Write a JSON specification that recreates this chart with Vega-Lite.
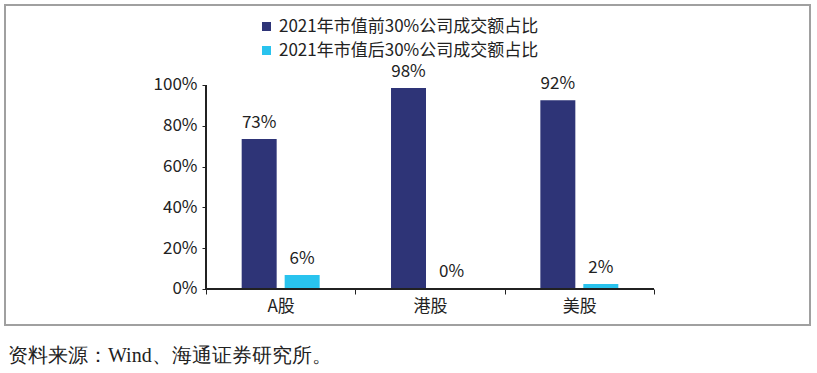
{
  "$schema": "https://vega.github.io/schema/vega-lite/v6.json",
  "width": 805,
  "height": 320,
  "autosize": "none",
  "padding": {"left": 5, "top": 5, "right": 7, "bottom": 48},
  "background": "white",
  "config": {
    "view": {"stroke": "#a0a0a0", "strokeWidth": 2},
    "font": "Noto Sans CJK SC"
  },
  "title": {
    "text": "资料来源：Wind、海通证券研究所。",
    "orient": "bottom",
    "anchor": "start",
    "font": "Liberation Serif",
    "fontSize": 20,
    "fontWeight": "normal",
    "color": "#222222",
    "offset": 21,
    "dx": 3
  },
  "data": {
    "values": [
      {"market": "A股", "series": "2021年市值前30%公司成交额占比", "value": 0.735, "label": "73%"},
      {"market": "A股", "series": "2021年市值后30%公司成交额占比", "value": 0.068, "label": "6%"},
      {"market": "港股", "series": "2021年市值前30%公司成交额占比", "value": 0.985, "label": "98%"},
      {"market": "港股", "series": "2021年市值后30%公司成交额占比", "value": 0.003, "label": "0%"},
      {"market": "美股", "series": "2021年市值前30%公司成交额占比", "value": 0.925, "label": "92%"},
      {"market": "美股", "series": "2021年市值后30%公司成交额占比", "value": 0.025, "label": "2%"}
    ]
  },
  "layer": [
    {
      "encoding": {
        "x": {
          "field": "market",
          "type": "nominal",
          "sort": ["A股", "港股", "美股"],
          "scale": {"type": "band", "domain": ["A股", "港股", "美股"], "range": [201, 649], "paddingInner": 0, "paddingOuter": 0},
          "axis": {
            "title": null,
            "domain": false,
            "grid": false,
            "offset": -36,
            "tickBand": "extent",
            "tickSize": 5,
            "tickColor": "#222222",
            "labelAngle": 0,
            "labelFontSize": 17,
            "labelColor": "#222222",
            "labelPadding": 4
          }
        },
        "y": {
          "field": "value",
          "type": "quantitative",
          "scale": {"domain": [-0.1765, 1.392], "nice": false, "zero": false},
          "axis": {
            "title": null,
            "values": [0, 0.2, 0.4, 0.6, 0.8, 1],
            "format": ".0%",
            "offset": -201,
            "domain": false,
            "grid": false,
            "tickSize": 4,
            "tickColor": "#222222",
            "labelFontSize": 17,
            "labelColor": "#222222",
            "labelPadding": 5
          }
        },
        "xOffset": {
          "field": "series",
          "type": "nominal",
          "sort": ["2021年市值前30%公司成交额占比", "2021年市值后30%公司成交额占比"],
          "scale": {"paddingInner": 0.186, "paddingOuter": 0.83}
        }
      },
      "layer": [
        {
          "mark": {"type": "bar"},
          "encoding": {
            "color": {
              "field": "series",
              "type": "nominal",
              "sort": ["2021年市值前30%公司成交额占比", "2021年市值后30%公司成交额占比"],
              "scale": {"range": ["#2e3477", "#29c3ee"]},
              "legend": {
                "title": null,
                "orient": "none",
                "legendX": 253,
                "legendY": 13,
                "padding": 0,
                "symbolType": "square",
                "symbolSize": 81,
                "symbolStrokeWidth": 0,
                "labelFontSize": 17,
                "labelColor": "#222222",
                "labelOffset": 4,
                "rowPadding": 6,
                "labelLimit": 400
              }
            }
          }
        },
        {
          "mark": {"type": "text", "baseline": "alphabetic", "dy": -11, "fontSize": 17, "color": "#222222"},
          "encoding": {"text": {"field": "label"}}
        }
      ]
    },
    {
      "mark": {"type": "rule", "color": "#222222", "strokeWidth": 1.5},
      "encoding": {
        "x": {"datum": "A股", "bandPosition": 0, "type": "nominal"},
        "y": {"datum": 0, "type": "quantitative"},
        "y2": {"datum": 1}
      }
    },
    {
      "mark": {"type": "rule", "color": "#222222", "strokeWidth": 1.5},
      "encoding": {
        "x": {"datum": "A股", "bandPosition": 0, "type": "nominal"},
        "x2": {"datum": "美股", "bandPosition": 1},
        "y": {"datum": 0, "type": "quantitative"}
      }
    }
  ]
}
